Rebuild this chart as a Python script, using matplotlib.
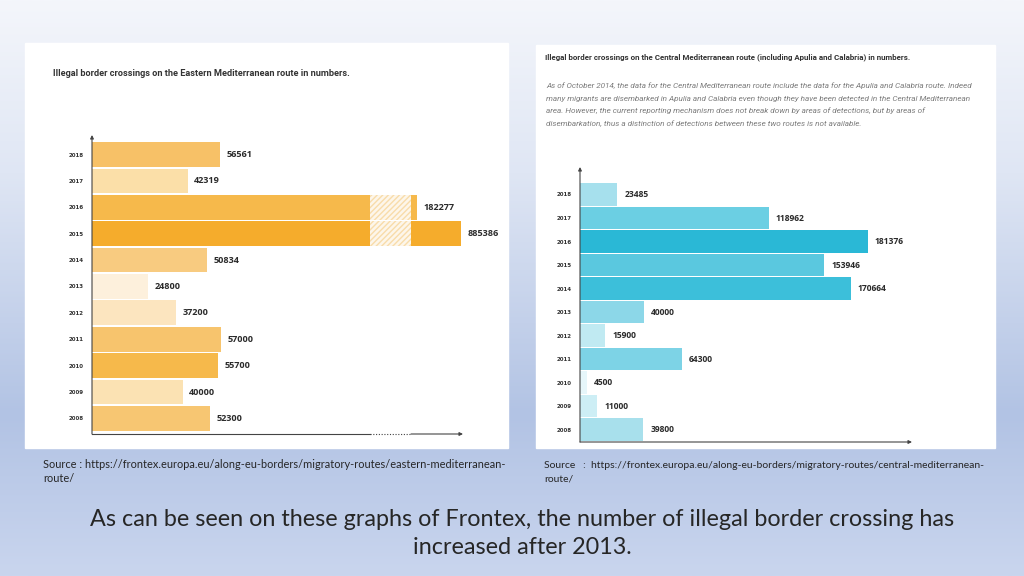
import matplotlib.pyplot as plt
import numpy as np
from matplotlib.colors import LinearSegmentedColormap

W, H = 1024, 576

# data
years = [2018, 2017, 2016, 2015, 2014, 2013, 2012, 2011, 2010, 2009, 2008]
east_values = [56561, 42319, 182277, 885386, 50834, 24800, 37200, 57000, 55700, 40000, 52300]
central_values = [23485, 118962, 181376, 153946, 170664, 40000, 15900, 64300, 4500, 11000, 39800]

east_colors = ['#f7c167', '#fbdfa8', '#f6b94b', '#f5ac2c', '#f8cb80', '#fdf0dc',
               '#fce5bf', '#f7c46d', '#f6b94b', '#fbe2b3', '#f7c672']
central_colors = ['#a6e0ed', '#6bcfe3', '#2ab8d6', '#5ac8df', '#3cbfda', '#8cd7e8',
                  '#c0eaf2', '#7dd3e6', '#e6f6fa', '#cdeef5', '#a8e0ec']

# broken-axis look of the eastern chart (the two huge years)
BREAK_START = 122850
BREAK_END = 140970
tails = {2016: 2650, 2015: 22100}

fig = plt.figure(figsize=(W / 100, H / 100), dpi=100)

# slide background, drawn in pixel coordinates
bg = fig.add_axes([0, 0, 1, 1])
bg.set_xlim(0, W)
bg.set_ylim(H, 0)
bg.axis('off')
cmap = LinearSegmentedColormap.from_list('slide', [(0, '#f4f6fb'), (0.3, '#dfe6f4'),
                                                    (0.72, '#b2c3e4'), (1, '#c9d5ee')])
bg.imshow(np.linspace(0, 1, 200).reshape(-1, 1), cmap=cmap, aspect='auto',
          extent=(0, W, H, 0), zorder=0)
bg.add_patch(plt.Rectangle((25, 43), 483, 405, color='white', zorder=1))
bg.add_patch(plt.Rectangle((536, 45), 459, 403, color='white', zorder=1))

bg.text(53, 73, 'Illegal border crossings on the Eastern Mediterranean route in numbers.',
        fontsize=6.6, fontweight='bold', family='Roboto', color='#333333', va='center', zorder=2)
bg.text(545, 57, 'Illegal border crossings on the Central Mediterranean route (including Apulia and Calabria) in numbers.',
        fontsize=5.7, fontweight='bold', family='Roboto', color='#333333', va='center', zorder=2)
para = ['As of October 2014, the data for the Central Mediterranean route include the data for the Apulia and Calabria route. Indeed',
        'many migrants are disembarked in Apulia and Calabria even though they have been detected in the Central Mediterranean',
        'area. However, the current reporting mechanism does not break down by areas of detections, but by areas of',
        'disembarkation, thus a distinction of detections between these two routes is not available.']
for i, line in enumerate(para):
    bg.text(546, 86 + i * 12.5, line, fontsize=5.82, style='italic', family='Roboto',
            color='#7c7c7c', va='center', zorder=2)

src_kw = dict(fontsize=7.9, family='Lato', color='#262626', va='center')
bg.text(43, 465, 'Source : https://frontex.europa.eu/along-eu-borders/migratory-routes/eastern-mediterranean-', **src_kw)
bg.text(43, 479, 'route/', **src_kw)
src_kw['fontsize'] = 7.45
bg.text(544, 465, 'Source   :  https://frontex.europa.eu/along-eu-borders/migratory-routes/central-mediterranean-', **src_kw)
bg.text(544, 479, 'route/', **src_kw)
bg.text(522, 519, 'As can be seen on these graphs of Frontex, the number of illegal border crossing has',
        fontsize=16.8, family='Lato', color='#262626', ha='center', va='center')
bg.text(522, 547, 'increased after 2013.', fontsize=16.8, family='Lato', color='#262626',
        ha='center', va='center')


def frame(ax, x0, x1, dotted=None):
    for s in ax.spines.values():
        s.set_visible(False)
    ax.set_xticks([])
    ax.tick_params(axis='y', length=0, pad=6, labelsize=4)
    for t in ax.get_yticklabels():
        t.set_fontweight('bold')
        t.set_color('#333333')
    arrow = dict(arrowstyle='-|>', color='#444444', lw=0.8, mutation_scale=5, shrinkA=0, shrinkB=0)
    ax.annotate('', xy=(0, 1), xytext=(0, 0), xycoords='axes fraction', arrowprops=arrow)
    tr = ax.get_xaxis_transform()
    if dotted is None:
        ax.annotate('', xy=(x1, 0), xytext=(x0, 0), xycoords=tr, arrowprops=arrow)
    else:
        a, b = dotted
        ax.plot([x0, a], [0, 0], color='#444444', lw=0.8, transform=tr, clip_on=False)
        ax.plot([a, b], [0, 0], color='#444444', lw=0.8, ls=(0, (1, 1.5)),
                transform=tr, clip_on=False)
        ax.annotate('', xy=(x1, 0), xytext=(b, 0), xycoords=tr, arrowprops=arrow)


# eastern chart
ax1 = fig.add_axes([92 / W, 1 - 434 / H, (463 - 92) / W, (434 - 135) / H])
ax1.patch.set_alpha(0)
ax1.set_xlim(0, 163940)
ax1.set_ylim(2007.41, 2018.74)
for y, v, c in zip(years, east_values, east_colors):
    if v > BREAK_START:
        ax1.barh(y, BREAK_START, height=0.94, color=c)
        ax1.barh(y, BREAK_END - BREAK_START, left=BREAK_START, height=0.94,
                 facecolor='#fdf6ea', edgecolor='#f8dcaa', lw=0, hatch='//////')
        ax1.barh(y, tails[y], left=BREAK_END, height=0.94, color=c)
        end = BREAK_END + tails[y]
    else:
        ax1.barh(y, v, height=0.94, color=c)
        end = v
    ax1.annotate(f'{v}', (end, y), xytext=(4.5, 0), textcoords='offset points',
                 va='center', ha='left', fontsize=6.6, fontweight='bold',
                 family='Open Sans', color='#2b2b2b', annotation_clip=False)
ax1.set_yticks(years)
ax1.set_yticklabels([str(y) for y in years])
frame(ax1, 0, 163940, dotted=(BREAK_START, BREAK_END))

# central chart
ax2 = fig.add_axes([580 / W, 1 - 442 / H, (912 - 580) / W, (442 - 167) / H])
ax2.patch.set_alpha(0)
ax2.set_xlim(0, 209085)
ax2.set_ylim(2007.47, 2019.17)
ax2.barh(years, central_values, height=0.95, color=central_colors)
for y, v in zip(years, central_values):
    ax2.annotate(f'{v}', (v, y), xytext=(5, 0), textcoords='offset points',
                 va='center', ha='left', fontsize=6.1, fontweight='bold',
                 family='Open Sans', color='#2b2b2b', annotation_clip=False)
ax2.set_yticks(years)
ax2.set_yticklabels([str(y) for y in years])
frame(ax2, 0, 209085)

fig.savefig('out.png', dpi=100)
